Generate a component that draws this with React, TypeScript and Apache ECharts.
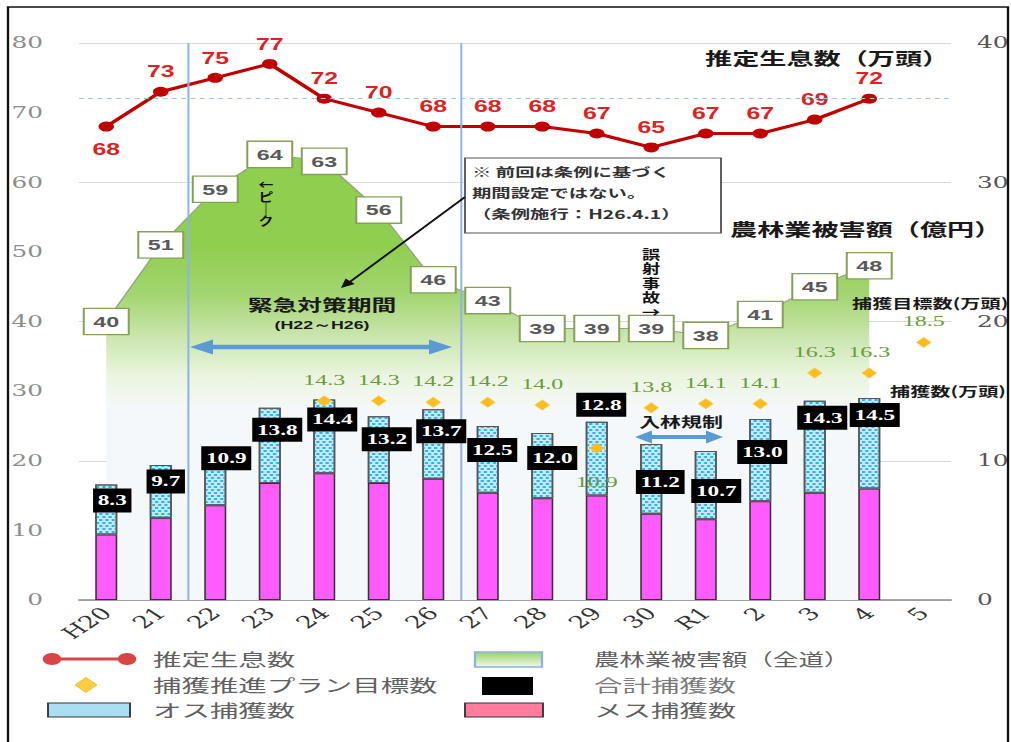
import React, { useEffect, useRef } from 'react';
import * as echarts from 'echarts';

// ---------- data ----------
const categories = ['H20', '21', '22', '23', '24', '25', '26', '27', '28', '29', '30', 'R1', '2', '3', '4', '5'];
const population = [68, 73, 75, 77, 72, 70, 68, 68, 68, 67, 65, 67, 67, 69, 72, null]; // 推定生息数（万頭）
const damage = [40, 51, 59, 64, 63, 56, 46, 43, 39, 39, 39, 38, 41, 45, 48, null]; // 農林業被害額（億円）
const femaleCatch = [4.7, 5.9, 6.8, 8.4, 9.1, 8.4, 8.7, 7.7, 7.3, 7.5, 6.2, 5.8, 7.1, 7.7, 8.0, null];
const maleCatch = [3.6, 3.8, 4.1, 5.4, 5.3, 4.8, 5.0, 4.8, 4.7, 5.3, 5.0, 4.9, 5.9, 6.6, 6.5, null];
const totalCatch = [8.3, 9.7, 10.9, 13.8, 14.4, 13.2, 13.7, 12.5, 12.0, 12.8, 11.2, 10.7, 13.0, 14.3, 14.5, null];
const targetCatch = [null, null, null, null, 14.3, 14.3, 14.2, 14.2, 14.0, 10.9, 13.8, 14.1, 14.1, 16.3, 16.3, 18.5];
const populationRefLine = 72;
const periodBoundaries = [2, 7]; // category boundaries (H21|H22, H26|H27)

// ---------- layout (reference pixels) ----------
const W = 652;
const H = 742;
const S = 1011 / W; // horizontal stretch of the reference
const X = (px: number) => px / S;

const totalLabelDx = [6, 5, 11, 7.5, 8, 8, 8, 4.5, 10, 4.5, 9, 10.5, 2, 7.5, 5.5];
const totalLabelDy = [16, 16.5, 10, 22, 20, 23, 22, 24, 25, -17, 38, 40, 33, 17, 17];
const targetBelow = ['29'];
const populationBelow = ['H20'];

const CJK = '"Noto Sans CJK JP", sans-serif';

function arrowHead(tx: number, ty: number, fx: number, fy: number, len: number, half: number) {
  const dx = tx - fx, dy = ty - fy;
  const L = Math.hypot(dx, dy);
  const ux = dx / L, uy = dy / L;
  const bx = tx - ux * len, by = ty - uy * len;
  return [[tx, ty], [bx - uy * half, by + ux * half], [bx + uy * half, by - ux * half]];
}

function text(x: number, y: number, t: string, size: number, o: any = {}) {
  return {
    type: 'text', x: X(x), y, silent: true, z: 50,
    scaleX: o.scaleX ?? 1,
    style: {
      text: t, fontSize: size, fontFamily: o.family || CJK, fontWeight: o.bold ? 'bold' : 'normal',
      fill: o.color || '#222', align: o.align || 'left', verticalAlign: o.va || 'middle',
      lineHeight: o.lh || size + 2,
    },
  };
}

function doubleArrow(x1: number, x2: number, y: number, headLen: number, half: number, width: number) {
  const c = '#5b9bd5';
  const ux1 = X(x1), ux2 = X(x2), hl = X(headLen);
  return [
    { type: 'line', silent: true, z: 40, shape: { x1: ux1 + hl - 1, y1: y, x2: ux2 - hl + 1, y2: y }, style: { stroke: c, lineWidth: width } },
    { type: 'polygon', silent: true, z: 40, shape: { points: arrowHead(ux1, y, ux2, y, hl, half) }, style: { fill: c } },
    { type: 'polygon', silent: true, z: 40, shape: { points: arrowHead(ux2, y, ux1, y, hl, half) }, style: { fill: c } },
  ];
}

function buildGraphics() {
  const g: any[] = [];
  // frame
  g.push({ type: 'rect', silent: true, z: 100, shape: { x: X(8), y: 7, width: X(1008) - X(8), height: 800 }, style: { fill: 'none', stroke: '#111', lineWidth: 1.5 } });

  // titles inside plot
  g.push(text(705, 58, '推定生息数（万頭）', 17.5, { bold: true, color: '#1a1a1a' }));
  g.push(text(730, 229, '農林業被害額（億円）', 17.5, { bold: true, color: '#1a1a1a' }));
  g.push(text(852, 302, '捕獲目標数(万頭)', 13, { bold: true, color: '#1a1a1a' }));
  g.push(text(890, 390, '捕獲数(万頭)', 13, { bold: true, color: '#1a1a1a' }));

  // note box
  g.push({ type: 'rect', silent: true, z: 45, shape: { x: X(465), y: 158, width: X(721) - X(465), height: 75 }, style: { fill: '#fff', stroke: '#555', lineWidth: 1.2 } });
  g.push(text(472, 171.5, '※ 前回は条例に基づく', 12.5, { bold: true, color: '#333' }));
  g.push(text(472, 192.5, '期間設定ではない。', 12.5, { bold: true, color: '#333' }));
  g.push(text(472, 213.5, '（条例施行：H26.4.1）', 12.5, { bold: true, color: '#333' }));
  // pointer arrow from note
  const sx = X(465), sy = 197, tx = X(341), ty = 288;
  g.push({ type: 'line', silent: true, z: 45, shape: { x1: sx, y1: sy, x2: tx + 3, y2: ty - 3 }, style: { stroke: '#111', lineWidth: 1.6 } });
  g.push({ type: 'polygon', silent: true, z: 45, shape: { points: arrowHead(tx, ty, sx, sy, 9, 4) }, style: { fill: '#111' } });

  // emergency period
  g.push(text(322, 304, '緊急対策期間', 16, { bold: true, align: 'center', color: '#1a1a1a' }));
  g.push(text(322, 325, '(H22～H26)', 11.5, { bold: true, align: 'center', color: '#1a1a1a', family: '"Liberation Sans", sans-serif' }));
  g.push(...doubleArrow(190, 452, 347, 23, 7.5, 4.5));

  // forest entry restriction
  g.push(text(681, 421, '入林規制', 13.5, { bold: true, align: 'center', color: '#1a1a1a' }));
  g.push(...doubleArrow(635, 723, 437, 17, 6.5, 4));

  // vertical notes
  g.push(text(266, 179, '←\nピ\n｜\nク', 12, { bold: true, align: 'center', va: 'top', lh: 12, scaleX: 0.8, color: '#111' }));
  g.push(text(651, 246, '誤\n射\n事\n故\n→', 13, { bold: true, align: 'center', va: 'top', lh: 14.5, scaleX: 0.9, color: '#111' }));

  // ---------- legend ----------
  const lc = '#606060';
  const fs = 17;
  const lo = { color: lc, scaleX: 1.08, lh: 18 };
  const r1 = 659, r2 = 685, r3 = 710;
  // population line
  g.push({ type: 'line', silent: true, z: 50, shape: { x1: X(52), y1: r1, x2: X(127), y2: r1 }, style: { stroke: '#d94545', lineWidth: 3 } });
  g.push({ type: 'circle', silent: true, z: 51, shape: { cx: X(52), cy: r1, r: 6 }, style: { fill: '#d94545' } });
  g.push({ type: 'circle', silent: true, z: 51, shape: { cx: X(127), cy: r1, r: 6 }, style: { fill: '#d94545' } });
  g.push(text(153, r1, '推定生息数', fs, lo));
  // target diamond
  g.push({ type: 'polygon', silent: true, z: 50, shape: { points: [[X(86), r2 - 7.5], [X(97), r2], [X(86), r2 + 7.5], [X(75), r2]] }, style: { fill: '#ffcc44', stroke: '#f2b800', lineWidth: 0.6 } });
  g.push(text(153, r2, '捕獲推進プラン目標数', fs, lo));
  // male
  g.push({
    type: 'rect', silent: true, z: 50, shape: { x: X(48), y: r3 - 7, width: X(130) - X(48), height: 14 },
    style: { fill: '#a9def5', stroke: '#333', lineWidth: 1.2 },
  });
  g.push(text(153, r3, 'オス捕獲数', fs, lo));
  // damage
  g.push({
    type: 'rect', silent: true, z: 50, shape: { x: X(475), y: r1 - 7, width: X(542) - X(475), height: 15 },
    style: {
      fill: { type: 'linear', x: 0, y: 0, x2: 0, y2: 1, colorStops: [{ offset: 0, color: '#9bd264' }, { offset: 1, color: '#f2f8ec' }] },
      stroke: '#8ab4e0', lineWidth: 1.5,
    },
  });
  g.push(text(594, r1, '農林業被害額（全道）', fs, { ...lo, scaleX: 0.97 }));
  // total
  g.push({ type: 'rect', silent: true, z: 50, shape: { x: X(482), y: r2 - 8, width: X(533) - X(482), height: 18 }, style: { fill: '#000' } });
  g.push(text(594, r2, '合計捕獲数', fs, { ...lo, color: '#7a7a7a' }));
  // female
  g.push({ type: 'rect', silent: true, z: 50, shape: { x: X(465), y: r3 - 7, width: X(543) - X(465), height: 14 }, style: { fill: '#ff7c9c', stroke: '#333', lineWidth: 1.2 } });
  g.push(text(594, r3, 'メス捕獲数', fs, lo));
  return g;
}

function buildOption(): any {
  const serif = '"DejaVu Serif", serif';
  return {
    animation: false,
    backgroundColor: '#fff',
    grid: { left: X(79), right: W - X(951), top: 43, bottom: H - 600, containLabel: false, outerBoundsMode: 'none' },
    xAxis: [
      {
        type: 'category', data: categories, boundaryGap: true,
        axisLine: { lineStyle: { color: '#8c8c8c', width: 1.5 } },
        axisTick: { show: false },
        splitLine: { show: false },
        axisLabel: { interval: 0, rotate: 45, margin: 10, color: '#333', fontFamily: serif, fontSize: 17 },
      },
      { type: 'value', min: 0, max: categories.length, show: false },
    ],
    yAxis: [
      {
        type: 'value', min: 0, max: 80, interval: 10, position: 'left',
        axisLine: { show: false }, axisTick: { show: false }, splitLine: { show: false },
        axisLabel: { margin: X(36), color: '#8c8c8c', fontFamily: serif, fontSize: 16 },
      },
      {
        type: 'value', min: 0, max: 40, interval: 10, position: 'right',
        axisLine: { show: false }, axisTick: { show: false },
        splitLine: { show: true, lineStyle: { color: '#d9d9d9', width: 1 } },
        axisLabel: { margin: X(26), color: '#555', fontFamily: serif, fontSize: 16 },
      },
    ],
    series: [
      {
        name: '農林業被害額（全道）', type: 'line', data: damage.map(v => (v == null ? '-' : v)),
        xAxisIndex: 0, yAxisIndex: 0, symbol: 'none', silent: true, z: 1,
        lineStyle: { color: '#93a57f', width: 1 },
        areaStyle: {
          opacity: 1,
          color: {
            type: 'linear', x: 0, y: 245, x2: 0, y2: 410, global: true,
            colorStops: [
              { offset: 0, color: '#8fce4e' },
              { offset: 0.3, color: '#a3d571' },
              { offset: 0.55, color: '#cae5ad' },
              { offset: 0.8, color: '#ebf5e1' },
              { offset: 1, color: '#f5f8fa' },
            ],
          },
        },
      },
      {
        name: 'メス捕獲数', type: 'bar', stack: 'catch', xAxisIndex: 0, yAxisIndex: 1, barWidth: X(22), z: 2,
        data: femaleCatch.map(v => (v == null ? '-' : v)),
        itemStyle: { color: '#ff5cff', borderColor: '#333', borderWidth: 1 },
      },
      {
        name: 'オス捕獲数', type: 'bar', stack: 'catch', xAxisIndex: 0, yAxisIndex: 1, barWidth: X(22), z: 2,
        data: maleCatch.map(v => (v == null ? '-' : v)),
        itemStyle: {
          color: '#c4ebfb', borderColor: '#555', borderWidth: 1,
          decal: { symbol: 'rect', symbolSize: 1, color: '#2fb2ea', dashArrayX: [[2, 2], [0, 2, 2, 0]], dashArrayY: [2, 1] },
        },
      },
      {
        name: 'boundaries', type: 'line', xAxisIndex: 1, yAxisIndex: 0, data: [[0, 0]], symbol: 'none',
        lineStyle: { opacity: 0 }, silent: true, z: 3,
        markLine: {
          silent: true, symbol: 'none', label: { show: false },
          lineStyle: { color: '#8db4e2', width: 1.3, type: 'solid' },
          data: periodBoundaries.map(b => ({ xAxis: b })),
        },
      },
      {
        name: '推定生息数', type: 'line', xAxisIndex: 0, yAxisIndex: 0, z: 4,
        data: population.map((v, i) => (v == null ? '-' : populationBelow.includes(categories[i])
          ? { value: v, label: { position: 'bottom', distance: 10 } } : v)),
        symbol: 'circle', symbolSize: 10,
        itemStyle: { color: '#c00000' },
        lineStyle: { color: '#c00000', width: 3 },
        label: { show: true, position: 'top', distance: 7, color: '#dd2222', fontSize: 16, fontWeight: 'bold', fontFamily: '"Liberation Sans", Arial, sans-serif' },
        markLine: {
          silent: true, symbol: 'none', label: { show: false },
          lineStyle: { color: '#9cc2e5', width: 1, type: [3, 3] },
          data: [{ yAxis: populationRefLine }],
        },
      },
      {
        name: '捕獲推進プラン目標数', type: 'scatter', xAxisIndex: 0, yAxisIndex: 1, z: 5,
        data: targetCatch.map((v, i) => (v == null ? '-' : targetBelow.includes(categories[i])
          ? { value: v, label: { position: 'bottom', distance: 20 } } : v)),
        symbol: 'diamond', symbolSize: [X(15), 10.5],
        itemStyle: { color: '#fbbd1e', borderColor: '#f7d36a', borderWidth: 0.5, opacity: 1 },
        label: {
          show: true, position: 'top', distance: 8, color: '#6a9b3c', fontSize: 15.5,
          fontFamily: '"Liberation Serif", serif',
          formatter: (p: any) => Number(targetCatch[p.dataIndex]).toFixed(1),
        },
      },
      {
        name: '合計捕獲数', type: 'scatter', xAxisIndex: 0, yAxisIndex: 1, z: 6, silent: true,
        data: totalCatch.map((v, i) => (v == null ? '-' : { value: v, label: { offset: [X(totalLabelDx[i]), totalLabelDy[i]] } })),
        symbol: 'rect', symbolSize: 1, itemStyle: { color: 'rgba(0,0,0,0)', opacity: 1 },
        label: {
          show: true, position: 'inside', color: '#fff', backgroundColor: '#000', padding: [4, 3],
          fontFamily: '"Liberation Serif", serif', fontWeight: 'bold', fontSize: 15, lineHeight: 16,
          formatter: (p: any) => Number(totalCatch[p.dataIndex]).toFixed(1),
        },
      },
      {
        name: 'damageLabels', type: 'scatter', xAxisIndex: 0, yAxisIndex: 0, z: 6, silent: true,
        data: damage.map(v => (v == null ? '-' : v)),
        symbol: 'rect', symbolSize: 1, itemStyle: { color: 'rgba(0,0,0,0)', opacity: 1 },
        label: {
          show: true, position: 'inside', formatter: '{c}', color: '#595959', backgroundColor: '#fff',
          borderColor: '#86a05a', borderWidth: 1.3, padding: [5, 5.5, 4, 5.5],
          fontFamily: '"Liberation Sans", Arial, sans-serif', fontWeight: 'bold', fontSize: 15, lineHeight: 16,
        },
      },
    ],
    graphic: { elements: buildGraphics() },
  };
}

export default function App() {
  const ref = useRef<HTMLDivElement>(null);
  useEffect(() => {
    if (!ref.current) return;
    const chart = echarts.init(ref.current, null, { renderer: 'svg' });
    chart.setOption(buildOption());
    return () => chart.dispose();
  }, []);
  return (
    <div style={{ position: 'fixed', left: 0, top: 0, width: 1011, height: 742, overflow: 'hidden', background: '#fff' }}>
      <div ref={ref} style={{ width: W, height: H, transform: `scaleX(${S})`, transformOrigin: '0 0' }} />
    </div>
  );
}
